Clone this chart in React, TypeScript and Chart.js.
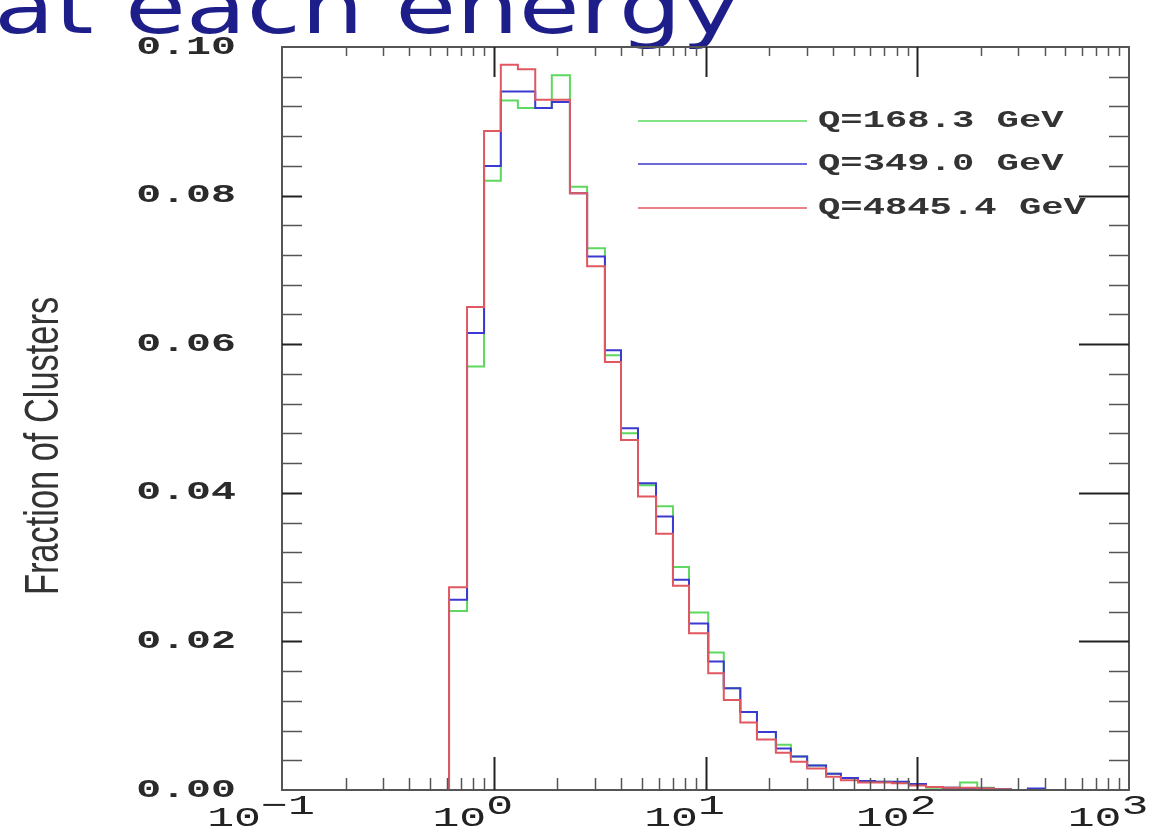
import React, { useEffect, useRef } from 'react';
import { Chart, registerables } from 'chart.js';

Chart.register(...registerables);

// ---- data ----
const binEdges = [0.615, 0.748, 0.900, 1.08, 1.30, 1.57, 1.88, 2.29, 2.76, 3.35, 3.99, 4.80, 5.84, 7.02, 8.36, 10.3, 12.2, 14.6, 17.5, 21.5, 25.3, 30.2, 37.1, 43.6, 52.5, 63.2, 76.0, 91.4, 110, 132, 159, 192, 230, 277, 333, 401, 483];

const q168 = [0.0241, 0.057, 0.082, 0.0928, 0.0918, 0.0918, 0.0962, 0.0812, 0.0729, 0.0585, 0.048, 0.041, 0.0382, 0.030, 0.0239, 0.0185, 0.0137, 0.0105, 0.0078, 0.0061, 0.0045, 0.0033, 0.0022, 0.0016, 0.0012, 0.0011, 0.0010, 0.0007, 0.0003, 0.0003, 0.0010, 0.0003, 0.0001, 0, 0, 0];
const q349 = [0.0256, 0.0615, 0.084, 0.094, 0.094, 0.0918, 0.0926, 0.0803, 0.0718, 0.0592, 0.0487, 0.0413, 0.0368, 0.0283, 0.0224, 0.0173, 0.0137, 0.0105, 0.0078, 0.0056, 0.0045, 0.0033, 0.0022, 0.0016, 0.0012, 0.0011, 0.0011, 0.0008, 0.0004, 0.0003, 0.0002, 0.0002, 0.0001, 0, 0.0002, 0];
const q4845 = [0.0273, 0.065, 0.0887, 0.0976, 0.0970, 0.0929, 0.0929, 0.0803, 0.0705, 0.0576, 0.0471, 0.0395, 0.0345, 0.0275, 0.0211, 0.0157, 0.0121, 0.0091, 0.0068, 0.0050, 0.0038, 0.0029, 0.0018, 0.0013, 0.0010, 0.0010, 0.0009, 0.0006, 0.0004, 0.0003, 0.0003, 0.0002, 0.0001, 0, 0, 0];

const seriesLabels = ['Q=168.3 GeV', 'Q=349.0 GeV', 'Q=4845.4 GeV'];
const seriesColors = ['#5ed85e', '#3a3ad0', '#e05860'];
const seriesOrder = [3, 2, 1]; // red drawn on top

const yTickValues = [0, 0.02, 0.04, 0.06, 0.08, 0.1];
const yTickLabels = ['0.00', '0.02', '0.04', '0.06', '0.08', '0.10'];
const xTickValues = [0.1, 1, 10, 100, 1000];
const xTickBases = ['10', '10', '10', '10', '10'];
const xTickExponents = ['\u22121', '0', '1', '2', '3'];
const yAxisTitle = 'Fraction of Clusters';
const headline = 'at each energy';

const MONO = '"Liberation Mono", "DejaVu Sans Mono", monospace';

function outline(values: number[]) {
  const pts: { x: number; y: number }[] = [{ x: binEdges[0], y: 0 }];
  values.forEach((v, i) => {
    pts.push({ x: binEdges[i], y: v });
    pts.push({ x: binEdges[i + 1], y: v });
  });
  pts.push({ x: binEdges[values.length], y: 0 });
  return pts;
}

function sText(ctx: CanvasRenderingContext2D, text: string, x: number, y: number, sx: number, font: string, align: CanvasTextAlign, baseline: CanvasTextBaseline, color: string) {
  ctx.save();
  ctx.translate(x, y);
  ctx.scale(sx, 1);
  ctx.font = font;
  ctx.textAlign = align;
  ctx.textBaseline = baseline;
  ctx.fillStyle = color;
  ctx.fillText(text, 0, 0);
  ctx.restore();
}

const decorPlugin = {
  id: 'decor',
  beforeDraw(chart: any) {
    const ctx = chart.ctx as CanvasRenderingContext2D;
    ctx.save();
    ctx.fillStyle = '#ffffff';
    ctx.fillRect(0, 0, chart.width, chart.height);
    ctx.restore();
  },
  afterDraw(chart: any) {
    const ctx = chart.ctx as CanvasRenderingContext2D;
    const { left, right, top, bottom } = chart.chartArea;
    const xs = chart.scales.x;
    const ys = chart.scales.y;

    // headline (cut off at top, as in the slide)
    sText(ctx, headline, -6, 33, 1.32, '75px "DejaVu Sans", Verdana, sans-serif', 'left', 'alphabetic', '#1e1e8a');

    // frame
    ctx.save();
    ctx.strokeStyle = '#555';
    ctx.lineWidth = 2;
    ctx.strokeRect(left, top, right - left, bottom - top);

    // y ticks
    for (let k = 1; k < 25; k++) {
      const v = k * 0.004;
      const y = Math.round(ys.getPixelForValue(v)) + 0.5;
      const major = k % 5 === 0;
      ctx.strokeStyle = major ? '#222' : '#555';
      ctx.lineWidth = major ? 2 : 1.5;
      ctx.beginPath();
      ctx.moveTo(left, y); ctx.lineTo(left + 20, y);
      ctx.moveTo(right, y); ctx.lineTo(right - (major ? 50 : 20), y);
      ctx.stroke();
    }
    // x ticks
    for (let e = -1; e < 3; e++) {
      for (let m = 1; m < 10; m++) {
        const v = m * Math.pow(10, e);
        if (v <= 0.1) continue;
        const x = Math.round(xs.getPixelForValue(v)) + 0.5;
        const major = m === 1;
        ctx.strokeStyle = major ? '#222' : '#555';
        ctx.lineWidth = major ? 2 : 1.5;
        ctx.beginPath();
        ctx.moveTo(x, bottom); ctx.lineTo(x, bottom - (major ? 33 : 12));
        ctx.moveTo(x, top); ctx.lineTo(x, top + (major ? 30 : 9));
        ctx.stroke();
      }
    }
    ctx.restore();

    // y tick labels
    const yFont = `bold 26px ${MONO}`;
    yTickValues.forEach((v, i) => {
      sText(ctx, yTickLabels[i], 236, ys.getPixelForValue(v), 1.6, yFont, 'right', 'middle', '#2a2a2a');
    });

    // x tick labels with superscripts
    const xFont = `28px ${MONO}`;
    const sx = 1.6;
    ctx.save();
    ctx.font = xFont;
    xTickValues.forEach((v, i) => {
      const wb = ctx.measureText(xTickBases[i]).width * sx;
      const we = ctx.measureText(xTickExponents[i]).width * sx;
      const cx = xs.getPixelForValue(v) - 21;
      const x0 = cx - (wb + we) / 2;
      sText(ctx, xTickBases[i], x0, 826, sx, xFont, 'left', 'alphabetic', '#222');
      sText(ctx, xTickExponents[i], x0 + wb, 814, sx, xFont, 'left', 'alphabetic', '#222');
    });
    ctx.restore();

    // y axis title
    ctx.save();
    ctx.translate(58, 446);
    ctx.rotate(-Math.PI / 2);
    ctx.scale(0.8, 1.1);
    ctx.font = '43px "Liberation Sans", Arial, sans-serif';
    ctx.textAlign = 'center';
    ctx.textBaseline = 'alphabetic';
    ctx.fillStyle = '#333';
    ctx.fillText(yAxisTitle, 0, 0);
    ctx.restore();

    // legend
    const legY = [121, 164, 208];
    const dsets = chart.data.datasets;
    dsets.forEach((ds: any, i: number) => {
      ctx.save();
      ctx.strokeStyle = ds.borderColor;
      ctx.lineWidth = 1.5;
      ctx.beginPath();
      ctx.moveTo(638, legY[i]);
      ctx.lineTo(807, legY[i]);
      ctx.stroke();
      ctx.restore();
      sText(ctx, ds.label, 818, legY[i], 1.55, `bold 24px ${MONO}`, 'left', 'middle', '#333');
    });
  },
};

export default function App() {
  const ref = useRef<HTMLCanvasElement>(null);
  useEffect(() => {
    const canvas = ref.current!;
    const series = [q168, q349, q4845];
    const chart = new Chart(canvas, {
      type: 'line',
      data: {
        datasets: series.map((vals, i) => ({
          label: seriesLabels[i],
          data: outline(vals),
          borderColor: seriesColors[i],
          backgroundColor: seriesColors[i],
          borderWidth: 2,
          pointRadius: 0,
          tension: 0,
          fill: false,
          order: seriesOrder[i],
        })),
      },
      options: {
        responsive: false,
        devicePixelRatio: 1,
        animation: false,
        events: [],
        layout: { padding: { left: 282, right: 45, top: 47, bottom: 42 } },
        plugins: { legend: { display: false }, tooltip: { enabled: false } },
        scales: {
          x: { type: 'logarithmic', min: 0.1, max: 1000, display: false },
          y: { type: 'linear', min: 0, max: 0.1, display: false },
        },
      },
      plugins: [decorPlugin],
    } as any);
    return () => chart.destroy();
  }, []);
  return (
    <div style={{ position: 'fixed', left: 0, top: 0, width: 1174, height: 832, background: '#fff' }}>
      <canvas ref={ref} width={1174} height={832} style={{ display: 'block', width: 1174, height: 832 }} />
    </div>
  );
}
